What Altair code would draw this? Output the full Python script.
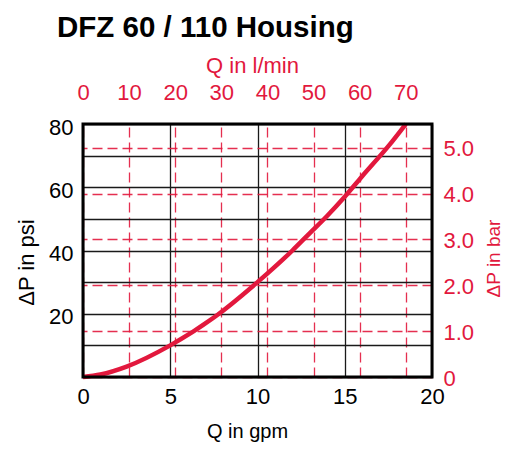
import altair as alt
import pandas as pd

# Flow (gpm) vs pressure drop (psi)
gpm = [0, 1, 2.5, 5, 7.5, 10, 12, 13, 14, 15, 16, 17.5, 18.5]
psi = [0, 0.8, 3.3, 10, 18.8, 30, 40, 45.5, 51, 57, 63.5, 73, 80]

gpm_ticks = [0, 5, 10, 15, 20]
psi_ticks = [0, 10, 20, 30, 40, 50, 60, 70, 80]
lpm_ticks = [0, 10, 20, 30, 40, 50, 60, 70]
bar_ticks = [0, 1, 2, 3, 4, 5]

LPM_PER_GPM = 3.785
PSI_PER_BAR = 14.504

RED = "#e2183d"
FONT = "Liberation Sans"
W, H = 349, 253

df = pd.DataFrame({"gpm": gpm, "psi": psi})
df["lpm"] = df["gpm"] * LPM_PER_GPM
df["bar"] = df["psi"] / PSI_PER_BAR

# Secondary (red) scales: l/min on top, bar on right, dashed grid
red = alt.Chart(df).mark_point(opacity=0).encode(
    x=alt.X("lpm:Q",
            scale=alt.Scale(domain=[0, 20 * LPM_PER_GPM], nice=False, zero=True),
            axis=alt.Axis(orient="top", values=lpm_ticks, title="Q in l/min",
                          grid=True, gridColor=RED, gridDash=[10, 5], gridWidth=1.3,
                          gridOpacity=0.9, domain=False, ticks=False, tickSize=0,
                          labelFlush=False,
                          labelColor=RED, titleColor=RED, labelPadding=20,
                          titlePadding=4, titleX=169, labelFontSize=22,
                          titleFontSize=22, titleFontWeight="normal")),
    y=alt.Y("bar:Q",
            scale=alt.Scale(domain=[0, 80 / PSI_PER_BAR], nice=False, zero=True),
            axis=alt.Axis(orient="right", values=bar_ticks, title="ΔP in bar",
                          grid=True, gridColor=RED, gridDash=[10, 5], gridWidth=1.3,
                          gridOpacity=0.9, domain=False, ticks=False, tickSize=0,
                          labelFlush=False, labelOffset=1,
                          labelColor=RED, titleColor=RED, labelPadding=11,
                          labelExpr="datum.value == 0 ? '0' : format(datum.value, '.1f')",
                          titleAngle=270, titleBaseline="top", titlePadding=11,
                          titleY=134, labelFontSize=22, titleFontSize=19,
                          titleFontWeight="normal")),
)

# Primary scales: gpm bottom, psi left, black grid, red curve
curve = alt.Chart(df).mark_line(color=RED, strokeWidth=4.5, interpolate="monotone").encode(
    x=alt.X("gpm:Q",
            scale=alt.Scale(domain=[0, 20], nice=False),
            axis=alt.Axis(orient="bottom", values=gpm_ticks, title="Q in gpm",
                          grid=True, gridColor="#1a1a1a", gridWidth=1.3, gridOpacity=1,
                          domain=False, ticks=False, tickSize=0, labelFlush=False,
                          labelColor="black",
                          titleColor="black", labelPadding=9, titlePadding=14,
                          titleX=164, labelFontSize=22, titleFontSize=20,
                          titleFontWeight="normal")),
    y=alt.Y("psi:Q",
            scale=alt.Scale(domain=[0, 80], nice=False),
            axis=alt.Axis(orient="left", values=psi_ticks, title="ΔP in psi",
                          grid=True, gridColor="#1a1a1a", gridWidth=1.3, gridOpacity=1,
                          domain=False, ticks=False, tickSize=0, labelFlush=False,
                          labelOffset=3,
                          labelColor="black",
                          titleColor="black", labelPadding=10, titlePadding=10,
                          labelExpr="datum.value % 20 == 0 && datum.value > 0 ? datum.label : ''",
                          titleY=138, labelFontSize=22, titleFontSize=22,
                          titleFontWeight="normal")),
)

frame = alt.Chart(alt.Data(values=[{"f": 1}])).mark_rect(
    filled=False, stroke="black", strokeWidth=3
).encode(x=alt.value(0), x2=alt.value(W), y=alt.value(0), y2=alt.value(H))

chart = alt.layer(red, curve, frame).resolve_scale(
    x="independent", y="independent"
).properties(
    width=W, height=H,
    title=alt.TitleParams("DFZ 60 / 110 Housing", anchor="start", frame="group",
                          dx=-26, offset=11, fontSize=29.5, font=FONT,
                          fontWeight="bold", color="black"),
    autosize=alt.AutoSizeParams(type="none"),
    padding={"left": 75, "top": 116, "right": 72, "bottom": 68},
).configure_view(stroke=None).configure_axis(
    labelFont=FONT, titleFont=FONT
)

chart.save("out.html", embed_options={"renderer": "svg", "actions": False})
